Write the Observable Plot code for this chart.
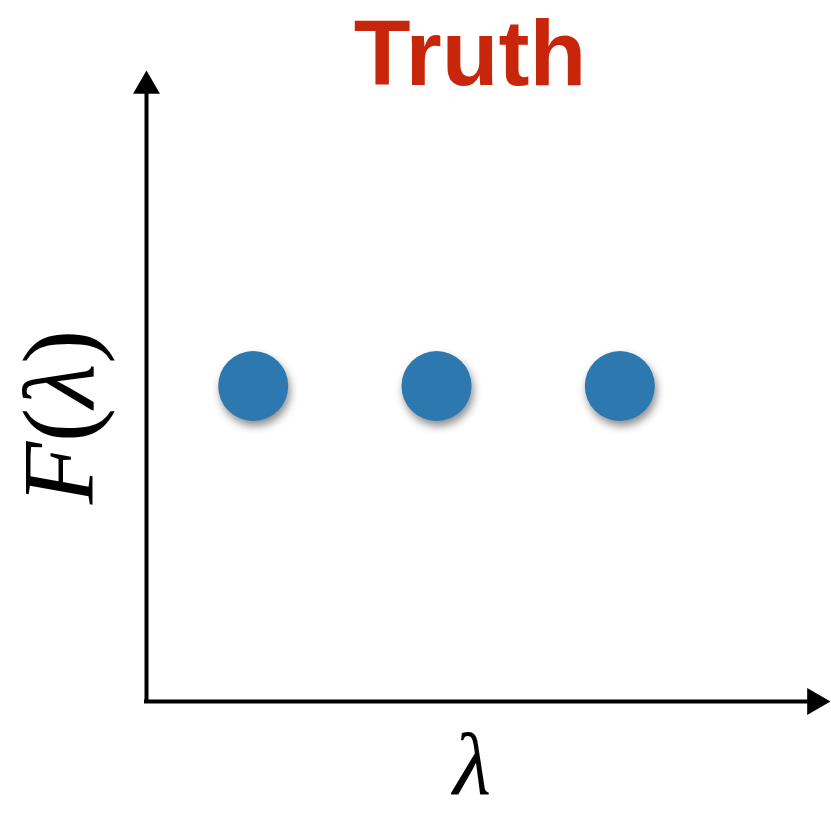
<!DOCTYPE html>
<html>
<head>
<meta charset="utf-8">
<script src="https://cdn.jsdelivr.net/npm/d3@7"></script>
<script src="https://cdn.jsdelivr.net/npm/@observablehq/plot@0.6"></script>
<style>
  html, body { margin: 0; padding: 0; background: #fff; }
</style>
</head>
<body>
<div id="chart"></div>
<script>
// Sampled points of F(λ)
const lambdas = [0.156, 0.424, 0.692];
const values = [0.5, 0.5, 0.5];

// Axis extents (data units)
const axisX = [0, 1];
const axisY = [0, 1];

const title = "Truth";
const xLabel = "λ";
const yLabel = "F(λ)";

const points = lambdas.map((l, i) => ({lambda: l, F: values[i]}));

const W = 831, H = 813;
const arrowR = 10;
// centroid-to-tip distance of d3.symbolTriangle for dot radius r
const tipOffset = 2 * Math.sqrt(Math.PI * arrowR * arrowR / (3 * Math.sqrt(3)));

const plot = Plot.plot({
  width: W,
  height: H,
  margin: 0,
  x: {domain: axisX, range: [146, 830], axis: null},
  y: {domain: axisY, range: [701, 70], axis: null},
  style: {background: "white", overflow: "visible"},
  marks: [
    // axes
    Plot.ruleX([axisX[0]], {y1: axisY[0], y2: axisY[1] - 0.03, stroke: "black", strokeWidth: 4, strokeLinecap: "square"}),
    Plot.ruleY([axisY[0]], {x1: axisX[0], x2: axisX[1] - 0.025, stroke: "black", strokeWidth: 4, strokeLinecap: "square"}),
    // arrowheads
    Plot.dot([{x: axisX[0], y: axisY[1]}], {x: "x", y: "y", symbol: "triangle", r: arrowR, fill: "black", stroke: null, dy: tipOffset}),
    Plot.dot([{x: axisX[1], y: axisY[0]}], {x: "x", y: "y", symbol: "triangle", r: arrowR, fill: "black", stroke: null, rotate: 90, dx: -tipOffset}),
    // data points
    Plot.dot(points, {x: "lambda", y: "F", r: 35, fill: "#2e78b0", stroke: null}),
    // title
    Plot.text([title], {frameAnchor: "top", lineAnchor: "bottom", dx: 54, dy: 84, fontSize: 93, fontWeight: "bold", fill: "#c8260a", fontFamily: "Liberation Sans, Arial, sans-serif"}),
    // axis labels
    Plot.text([xLabel], {frameAnchor: "bottom", lineAnchor: "bottom", dx: 56, dy: -20, fontSize: 88, fontStyle: "italic", fill: "black", fontFamily: "Liberation Serif, DejaVu Serif, serif"}),
    Plot.text([yLabel], {frameAnchor: "left", textAnchor: "middle", lineAnchor: "middle", rotate: -90, dx: 60, dy: 10, fontSize: 102, fill: "black", fontFamily: "Liberation Serif, DejaVu Serif, serif"})
  ]
});

// soft drop shadow under the data points
d3.select(plot).selectAll("circle")
  .style("filter", "drop-shadow(2px 5px 4px rgba(0,0,0,0.45))");

// italic F and λ, upright parentheses
d3.select(plot).selectAll("text").filter(function () { return this.textContent === yLabel; })
  .each(function () {
    const t = d3.select(this);
    t.text(null);
    t.append("tspan").attr("font-style", "italic").text("F");
    t.append("tspan").text("(");
    t.append("tspan").attr("font-style", "italic").text("λ");
    t.append("tspan").text(")");
  });

document.getElementById("chart").appendChild(plot);
</script>
</body>
</html>
